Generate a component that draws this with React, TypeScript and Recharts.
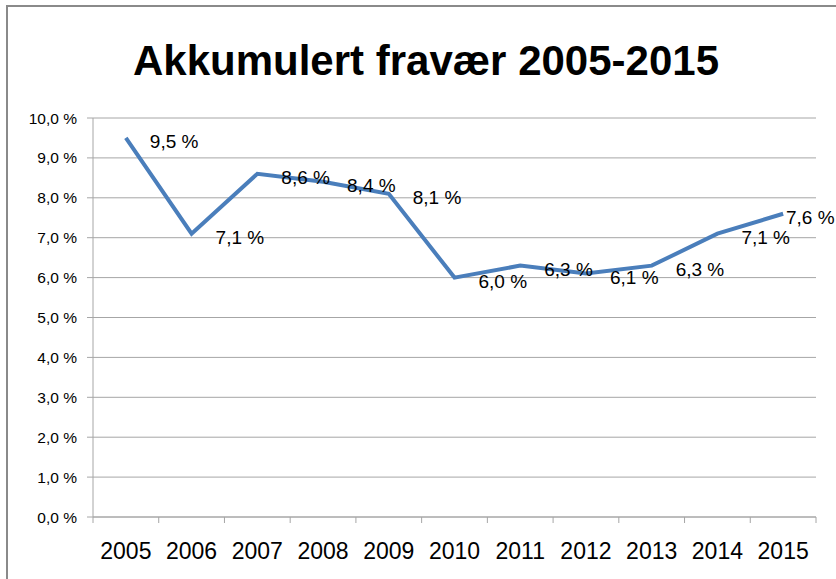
import React from 'react';
import { LineChart, Line, XAxis, YAxis, CartesianGrid, LabelList } from 'recharts';

const years = ['2005', '2006', '2007', '2008', '2009', '2010', '2011', '2012', '2013', '2014', '2015'];
const absence = [9.5, 7.1, 8.6, 8.4, 8.1, 6.0, 6.3, 6.1, 6.3, 7.1, 7.6];
const yTicks = [0, 1, 2, 3, 4, 5, 6, 7, 8, 9, 10];

const data = years.map((year, i) => ({ year, value: absence[i] }));

const W = 836;
const H = 579;
const FONT = '"Liberation Sans", Arial, sans-serif';
const GRID = '#a6a6a6';

const fmt = (v: number) => v.toFixed(1).replace('.', ',') + ' %';

const renderLabel = (props: any) => {
  const { x, y, value } = props;
  const w = 50;
  const lx = Math.min(x + 24, W - w);
  return (
    <text x={lx} y={y + 4} dominantBaseline="central" fontSize={19} fill="#000" fontFamily={FONT}>
      {fmt(value)}
    </text>
  );
};

const CategoryTick = (props: any) => {
  const { x, y, payload, index } = props;
  const half = payload?.offset ?? 0;
  const axisY = y - 26;
  const isLast = index === years.length - 1;
  return (
    <g>
      <line x1={x - half} x2={x - half} y1={axisY} y2={axisY + 6} stroke={GRID} />
      {isLast && <line x1={x + half} x2={x + half} y1={axisY} y2={axisY + 6} stroke={GRID} />}
      <text x={x} y={y} dy="0.71em" textAnchor="middle" fontSize={23} fill="#000" fontFamily={FONT}>
        {payload.value}
      </text>
    </g>
  );
};

export default function App() {
  return (
    <div style={{ position: 'absolute', left: 0, top: 0, width: W, height: H, overflow: 'hidden', background: '#fff' }}>
      <div
        style={{
          position: 'absolute',
          left: 6,
          top: 5,
          width: 900,
          height: 700,
          border: '2px solid #8a8a8a',
        }}
      />
      <div
        style={{
          position: 'absolute',
          left: 0,
          top: 40,
          width: 852,
          textAlign: 'center',
          fontFamily: FONT,
          fontWeight: 'bold',
          fontSize: 42,
          lineHeight: '42px',
          color: '#000',
        }}
      >
        Akkumulert fravær 2005-2015
      </div>
      <div style={{ position: 'absolute', left: 0, top: 0 }}>
        <LineChart width={W} height={H} data={data} margin={{ top: 118, right: 20, bottom: 22, left: 0 }}>
          <CartesianGrid vertical={false} stroke={GRID} strokeWidth={1} />
          <XAxis
            dataKey="year"
            scale="band"
            tickLine={false}
            axisLine={{ stroke: GRID }}
            tickSize={6}
            tickMargin={20}
            height={40}
            tick={<CategoryTick />}
            interval={0}
          />
          <YAxis
            domain={[0, 10]}
            ticks={yTicks}
            width={93}
            tickFormatter={fmt}
            axisLine={{ stroke: GRID }}
            tickLine={{ stroke: GRID }}
            tickSize={6}
            tickMargin={10}
            tick={{ fontSize: 15.5, fill: '#000', fontFamily: FONT }}
            interval={0}
          />
          <Line
            type="linear"
            dataKey="value"
            stroke="#4a7ebb"
            strokeWidth={4}
            dot={false}
            isAnimationActive={false}
          >
            <LabelList dataKey="value" content={renderLabel} />
          </Line>
        </LineChart>
      </div>
    </div>
  );
}
